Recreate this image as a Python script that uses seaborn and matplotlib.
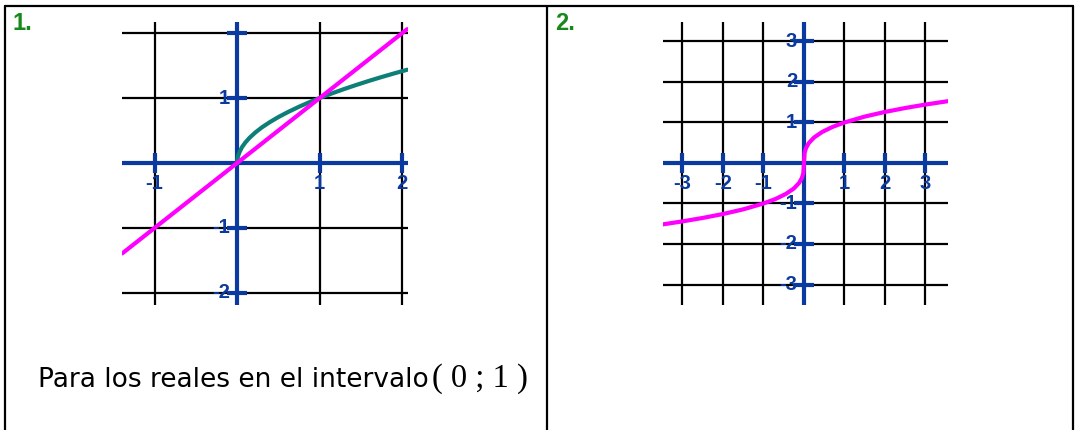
import seaborn as sns
import numpy as np
import pandas as pd
import matplotlib.pyplot as plt
from matplotlib.lines import Line2D

sns.set_theme(style="white")
plt.rcParams['font.family'] = ['Liberation Sans', 'DejaVu Sans']

# graph 1: y = x (magenta) and y = sqrt(x) (teal)
line_x = [-1.39, -1.0, 0.0, 1.0, 2.06]
line_y = [-1.39, -1.0, 0.0, 1.0, 2.06]
root_x = [0.0, 0.01, 0.03, 0.06, 0.1, 0.15, 0.22, 0.3, 0.4, 0.5, 0.62, 0.75, 0.88, 1.0,
          1.15, 1.3, 1.45, 1.6, 1.75, 1.9, 2.06]
root_y = [0.0, 0.10, 0.17, 0.245, 0.316, 0.387, 0.469, 0.548, 0.632, 0.707, 0.787, 0.866,
          0.938, 1.0, 1.072, 1.14, 1.204, 1.265, 1.323, 1.378, 1.435]

# graph 2: cube-root-like curve
cube_x = [-3.48, -3.0, -2.5, -2.0, -1.5, -1.0, -0.7, -0.45, -0.25, -0.12, -0.05, -0.015, 0.0,
          0.015, 0.05, 0.12, 0.25, 0.45, 0.7, 1.0, 1.5, 2.0, 2.5, 3.0, 3.55]
cube_y = [-1.515, -1.442, -1.357, -1.26, -1.145, -1.0, -0.888, -0.766, -0.63, -0.493, -0.368,
          -0.247, 0.0, 0.247, 0.368, 0.493, 0.63, 0.766, 0.888, 1.0, 1.145, 1.26, 1.357, 1.442, 1.525]

g1_xticks = [-1, 1, 2]
g1_yticks = [2, 1, -1, -2]
g1_ylabels = ['', '1', '-1', '-2']
g2_xticks = [-3, -2, -1, 1, 2, 3]
g2_yticks = [3, 2, 1, -1, -2, -3]

AXIS_BLUE = '#0a3aa0'
MAGENTA = '#ff00ff'
TEAL = '#0e7f78'
GREEN = '#16891a'

W, H = 1078, 430
fig = plt.figure(figsize=(W / 100, H / 100), dpi=100)
fig.patch.set_facecolor('white')


def box(l, r, t, b):
    return [l / W, 1 - b / H, (r - l) / W, (b - t) / H]


def graph(ax, xlim, ylim, xt, yt, ylab):
    ax.set_xlim(*xlim)
    ax.set_ylim(*ylim)
    ax.set_xticks(range(int(np.ceil(xlim[0])), int(np.floor(xlim[1])) + 1))
    ax.set_yticks(range(int(np.ceil(ylim[0])), int(np.floor(ylim[1])) + 1))
    ax.grid(True, color='black', lw=1.6)
    ax.tick_params(length=0, labelbottom=False, labelleft=False)
    for s in ax.spines.values():
        s.set_visible(False)
    ax.set_facecolor('none')
    ax.axhline(0, color=AXIS_BLUE, lw=3, zorder=3)
    ax.axvline(0, color=AXIS_BLUE, lw=3, zorder=3)
    ax.plot(xt, [0] * len(xt), ls='', marker='|', ms=14, mew=3, color=AXIS_BLUE,
            zorder=3, clip_on=False)
    ax.plot([0] * len(yt), yt, ls='', marker='_', ms=14, mew=3, color=AXIS_BLUE,
            zorder=3, clip_on=False)
    for v in xt:
        ax.annotate(str(v), (v, 0), xytext=(0, -14.5), textcoords='offset points',
                    ha='center', va='center', fontsize=14.5, fontweight='bold',
                    color=AXIS_BLUE, zorder=2)
    for v, lab in zip(yt, ylab):
        ax.annotate(lab, (0, v), xytext=(-5, 0), textcoords='offset points',
                    ha='right', va='center', fontsize=14.5, fontweight='bold',
                    color=AXIS_BLUE, zorder=2)


ax1 = fig.add_axes(box(122, 408, 22, 305))
graph(ax1, (-1.394, 2.07), (-2.185, 2.17), g1_xticks, g1_yticks, g1_ylabels)
sns.lineplot(x=line_x, y=line_y, ax=ax1, color=MAGENTA, lw=3, sort=False, zorder=5)
sns.lineplot(x=root_x, y=root_y, ax=ax1, color=TEAL, lw=3, sort=False, zorder=4)

ax2 = fig.add_axes(box(663, 948, 22, 305))
graph(ax2, (-3.48, 3.556), (-3.506, 3.48), g2_xticks, g2_yticks,
      [str(v) for v in g2_yticks])
sns.lineplot(x=cube_x, y=cube_y, ax=ax2, color=MAGENTA, lw=3, sort=False, zorder=5)

# table borders
for xs, ys in [([5, 1073], [6, 6]), ([5, 5], [6, 430]), ([547, 547], [6, 430]),
               ([1073, 1073], [6, 430])]:
    fig.add_artist(Line2D([x / W for x in xs], [1 - y / H for y in ys],
                          color='black', lw=1.6))

fig.text(13 / W, 1 - 23 / H, '1.', fontsize=17, fontweight='bold', color=GREEN, va='center')
fig.text(555 / W, 1 - 23 / H, '2.', fontsize=17, fontweight='bold', color=GREEN, va='center')

fig.text(38 / W, 1 - 380 / H, 'Para los reales en el intervalo', fontsize=19,
         family='DejaVu Sans', va='center', color='black')
fig.text(432 / W, 1 - 379 / H, '( 0 ; 1 )', fontsize=23.5,
         family='Liberation Serif', va='center', color='black')

fig.savefig('out.png', dpi=100)
